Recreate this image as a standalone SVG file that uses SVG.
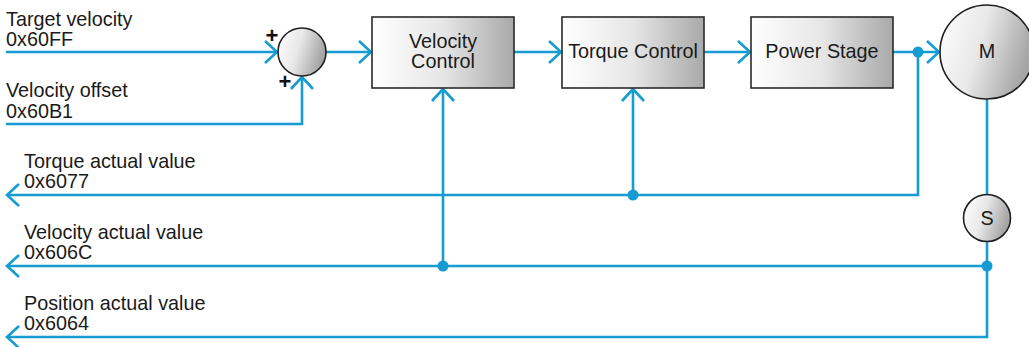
<svg xmlns="http://www.w3.org/2000/svg" width="1029" height="347" viewBox="0 0 1029 347">
<defs>
<linearGradient id="gBox" x1="0" y1="0" x2="1" y2="0">
<stop offset="0" stop-color="#ffffff"/>
<stop offset="0.5" stop-color="#e6e6e6"/>
<stop offset="1" stop-color="#a9a9a9"/>
</linearGradient>
<linearGradient id="gCirc" x1="0" y1="0" x2="1" y2="0.3">
<stop offset="0" stop-color="#ffffff"/>
<stop offset="0.5" stop-color="#e8e8e8"/>
<stop offset="1" stop-color="#a6a6a6"/>
</linearGradient>
<marker id="arr" markerUnits="userSpaceOnUse" markerWidth="30" markerHeight="30" viewBox="-15 -15 30 30" refX="0" refY="0" orient="auto" overflow="visible">
<path d="M-12,-11 L0,0 L-12,11" fill="none" stroke="#179cd2" stroke-width="2.6"/>
</marker>
</defs>
<style>
.w{fill:none;stroke:#179cd2;stroke-width:2.6}
.a{marker-end:url(#arr)}
.dot{fill:#179cd2}
.box{fill:url(#gBox);stroke:#2a2a2a;stroke-width:1.6}
.circ{fill:url(#gCirc);stroke:#1e1e1e;stroke-width:1.6}
.t{font-family:"Liberation Sans",Arial,sans-serif;font-size:19.8px;fill:#1a1a1a}
.c{text-anchor:middle}
.p{font-family:"Liberation Sans",Arial,sans-serif;font-size:22px;font-weight:bold;fill:#111;text-anchor:middle}
</style>
<g id="connectors">
<line class="w a" x1="6" y1="52" x2="277" y2="52"/>
<polyline class="w a" points="6,124 302,124 302,77"/>
<line class="w a" x1="326" y1="52" x2="371" y2="52"/>
<line class="w a" x1="514" y1="52" x2="561" y2="52"/>
<line class="w a" x1="704" y1="52" x2="750" y2="52"/>
<line class="w a" x1="893" y1="52" x2="939" y2="52"/>
<polyline class="w a" points="918,52 918,195 7,195"/>
<line class="w a" x1="633" y1="195" x2="633" y2="89"/>
<line class="w" x1="987" y1="99" x2="987" y2="195"/>
<polyline class="w a" points="987,241 987,337 7,337"/>
<line class="w a" x1="987" y1="266" x2="7" y2="266"/>
<line class="w a" x1="443" y1="266" x2="443" y2="89"/>
<circle class="dot" cx="918" cy="52" r="5.5"/>
<circle class="dot" cx="633" cy="195" r="5.5"/>
<circle class="dot" cx="443" cy="266" r="5.5"/>
<circle class="dot" cx="987" cy="266" r="5.5"/>
</g>
<g id="labels">
<text class="t" x="6" y="25.5">Target velocity</text>
<text class="t" x="6" y="46">0x60FF</text>
<text class="t" x="6" y="97">Velocity offset</text>
<text class="t" x="6" y="117.5">0x60B1</text>
<text class="t" x="24" y="167.5">Torque actual value</text>
<text class="t" x="24" y="188">0x6077</text>
<text class="t" x="24" y="238.5">Velocity actual value</text>
<text class="t" x="24" y="259">0x606C</text>
<text class="t" x="24" y="309.5">Position actual value</text>
<text class="t" x="24" y="330">0x6064</text>
</g>
<g id="sum">
<circle class="circ" cx="302" cy="52" r="24"/>
<text class="p" x="272" y="43">+</text>
<text class="p" x="285" y="89">+</text>
</g>
<g id="velocity-control">
<rect class="box" x="372" y="17" width="142" height="71"/>
<text class="t c" x="443" y="48">Velocity</text>
<text class="t c" x="443" y="68">Control</text>
</g>
<g id="torque-control">
<rect class="box" x="562" y="17" width="142" height="71"/>
<text class="t c" x="633" y="58">Torque Control</text>
</g>
<g id="power-stage">
<rect class="box" x="751" y="17" width="142" height="71"/>
<text class="t c" x="822" y="58">Power Stage</text>
</g>
<g id="motor">
<circle class="circ" cx="987" cy="52" r="47"/>
<text class="t c" x="987" y="58">M</text>
</g>
<g id="sensor">
<circle class="circ" cx="987" cy="218" r="23.5"/>
<text class="t c" x="987" y="225">S</text>
</g>
</svg>
